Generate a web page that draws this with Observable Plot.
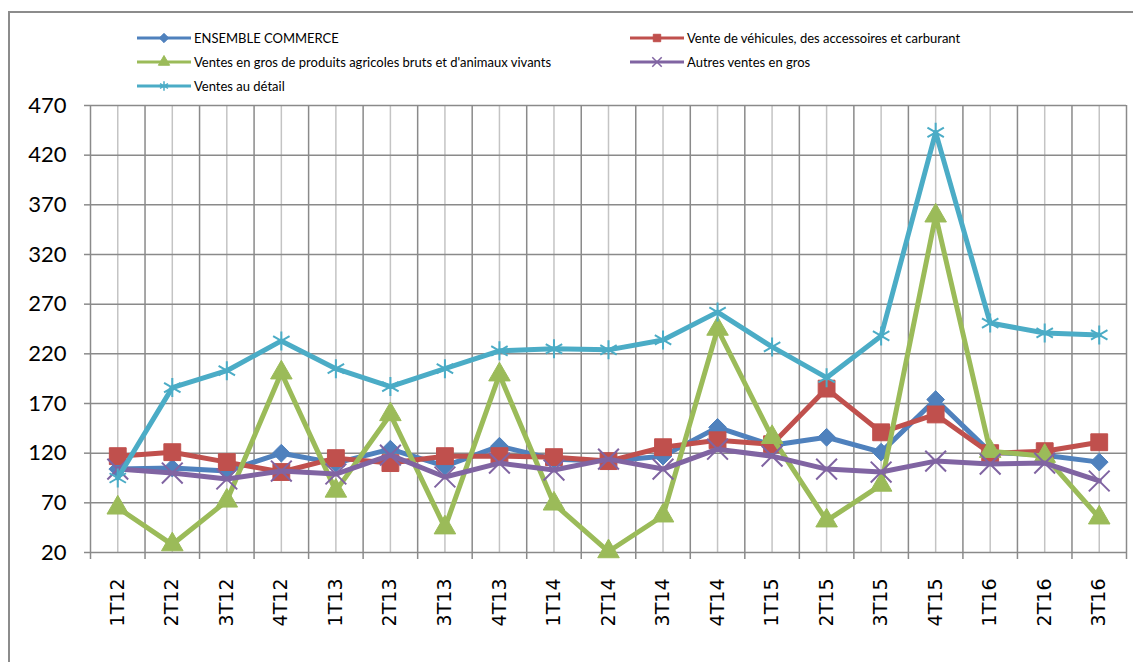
<!DOCTYPE html>
<html><head><meta charset="utf-8">
<script src="https://cdn.jsdelivr.net/npm/d3@7"></script>
<script src="https://cdn.jsdelivr.net/npm/@observablehq/plot@0.6"></script>
<style>
body{margin:0;background:#fff;overflow:hidden;}
#frame{position:absolute;left:8px;top:11px;width:1145px;height:670px;border:2px solid #8c8c8c;box-sizing:border-box;}
#legend{position:absolute;left:0;top:0;width:1133px;height:95px;font-family:Lato,sans-serif;font-size:13px;color:#000;}
.item{position:absolute;display:flex;align-items:center;height:14px;white-space:nowrap;}
.item svg{margin-right:3px;}
#chart{position:absolute;left:0;top:95px;}
</style></head>
<body>
<div id="frame"></div>
<div id="legend"></div>
<div id="chart"></div>
<script>
const categories = ["1T12","2T12","3T12","4T12","1T13","2T13","3T13","4T13","1T14","2T14","3T14","4T14","1T15","2T15","3T15","4T15","1T16","2T16","3T16"];
const ensemble  = [104, 105, 102, 120, 110, 124, 107, 127, 114, 112, 117, 146, 128, 136, 121, 174, 121, 118, 111];
const vehicules = [117, 121, 111, 101, 115, 110, 117, 117, 116, 112, 126, 133, 129, 185, 141, 159, 120, 122, 131];
const agricoles = [65, 28, 72, 201, 82, 159, 45, 199, 69, 21, 57, 245, 136, 52, 88, 359, 122, 117, 55];
const autres    = [104, 100, 94, 102, 99, 118, 96, 110, 103, 114, 104, 124, 117, 104, 101, 112, 109, 110, 92];
const detail    = [95, 186, 203, 233, 205, 187, 205, 223, 225, 224, 234, 262, 227, 196, 238, 443, 251, 241, 239];
const seriesNames = ["ENSEMBLE COMMERCE","Vente de véhicules, des accessoires et carburant","Ventes en gros de produits agricoles bruts et d'animaux vivants","Autres ventes en gros","Ventes au détail"];
const yTicks = [20,70,120,170,220,270,320,370,420,470];

const styles = [
  {color:"#4F81BD", symbol:"diamond2", r:8, d3s:d3.symbolDiamond2, fill:true},
  {color:"#C0504D", symbol:"square", r:9.5, d3s:d3.symbolSquare, fill:true},
  {color:"#9BBB59", symbol:"triangle", r:8, d3s:d3.symbolTriangle, fill:true},
  {color:"#8064A2", symbol:"times", r:9.5, d3s:d3.symbolTimes, fill:false},
  {color:"#4BACC6", symbol:"asterisk", r:9, d3s:d3.symbolAsterisk, fill:false}
];
const values = [ensemble, vehicules, agricoles, autres, detail];
const series = seriesNames.map((name, k) => ({name, ...styles[k], rows: values[k].map((v, i) => ({i, cat: categories[i], value: v}))}));

// Legend
const legendPos = [[137,31],[630,31],[137,55],[630,55],[137,79]];
const legend = document.getElementById("legend");
series.forEach((s, k) => {
  const div = document.createElement("div");
  div.className = "item";
  div.style.left = legendPos[k][0] + "px";
  div.style.top = legendPos[k][1] + "px";
  const sym = d3.symbol(s.d3s, s.fill ? 55 : 60)();
  div.innerHTML = `<svg width="54" height="14"><line x1="0" x2="54" y1="7" y2="7" stroke="${s.color}" stroke-width="3"/>` +
    `<path d="${sym}" transform="translate(27,7)" fill="${s.fill ? s.color : "none"}" stroke="${s.color}" stroke-width="${s.fill ? 1 : 1.5}"/></svg><span>${s.name}</span>`;
  legend.appendChild(div);
});

const centers = d3.range(categories.length);
const bounds = d3.range(categories.length + 1).map(i => i - 0.5);
const grid = "#8a8a8a";

const marks = [
  Plot.gridX(centers, {stroke: "#c4c4c4", strokeOpacity: 1, strokeWidth: 1.5}),
  Plot.gridX(bounds, {stroke: grid, strokeOpacity: 1, strokeWidth: 1.5}),
  Plot.gridY(yTicks, {stroke: grid, strokeOpacity: 1, strokeWidth: 1.5}),
  Plot.axisX(bounds, {tickSize: 7, tickFormat: () => "", stroke: grid, strokeWidth: 1.5}),
  Plot.axisX(centers, {tickSize: 0, tickPadding: 26, tickRotate: -90, tickFormat: i => categories[i], fontSize: 19, fontFamily: "DejaVu Sans", fill: "#000"}),
  Plot.axisY(yTicks, {tickSize: 6, tickPadding: 18, fontSize: 22, fontFamily: "Lato", stroke: grid, strokeWidth: 1.5, fill: "#000"}),
];
series.forEach(s => {
  marks.push(Plot.line(s.rows, {x: "i", y: "value", stroke: s.color, strokeWidth: 5, strokeLinejoin: "round"}));
  marks.push(Plot.dot(s.rows, {x: "i", y: "value", symbol: () => s.symbol, r: s.r,
    fill: s.fill ? s.color : "none", stroke: s.color, strokeWidth: s.fill ? 1 : 2}));
});

const chart = Plot.plot({
  width: 1133, height: 567,
  marginTop: 10, marginBottom: 110, marginLeft: 90, marginRight: 7,
  x: {type: "linear", domain: [-0.5, 18.5], label: null, axis: null},
  y: {domain: [20, 470], label: null, axis: null},
  symbol: {type: "identity"},
  style: {background: "transparent", overflow: "visible"},
  marks
});
document.getElementById("chart").appendChild(chart);
</script>
</body></html>
